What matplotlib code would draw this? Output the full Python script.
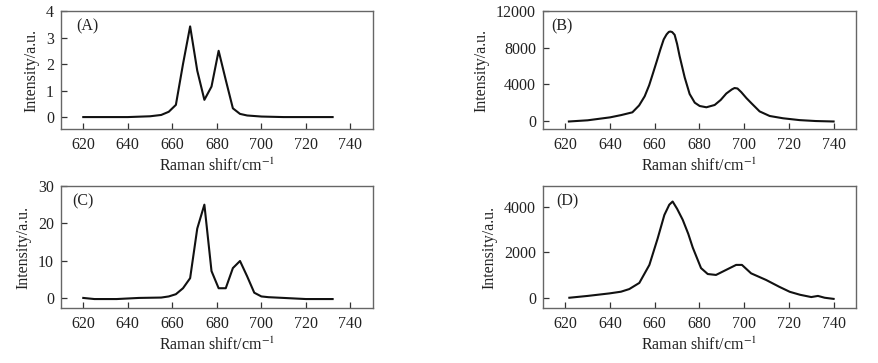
import numpy as np
import matplotlib
matplotlib.use("Agg")
import matplotlib.pyplot as plt

plt.rcParams['font.family'] = ['Liberation Serif', 'DejaVu Serif']
plt.rcParams['mathtext.fontset'] = 'stix'

# (A)
shift_a = [620, 640, 650, 655, 658.4, 661.6, 664.8, 668.0, 671.2, 674.4, 677.6,
           680.8, 684.0, 687.2, 690.4, 693.6, 700, 710, 732]
inten_a = [0.0, 0.0, 0.03, 0.08, 0.2, 0.46, 2.0, 3.42, 1.75, 0.65, 1.15,
           2.5, 1.4, 0.33, 0.12, 0.06, 0.02, 0.0, 0.0]

# (B)
shift_b = [621.6, 630, 640, 645, 650, 653, 655.5, 657.5, 659.2, 661, 662.5,
           664, 665.3, 666.3, 667.0, 667.8, 668.9, 670, 671.1, 673.4, 675.6,
           677.9, 680.1, 683.1, 686.8, 689.5, 692, 694.5, 695.7, 697, 698.7,
           701, 703.2, 706.9, 711.4, 717.4, 724.8, 732, 740]
inten_b = [-50, 80, 400, 650, 950, 1700, 2700, 3900, 5200, 6600, 7800,
           8900, 9450, 9720, 9760, 9700, 9400, 8400, 7100, 4750, 2950,
           2000, 1640, 1500, 1750, 2300, 3000, 3450, 3600, 3550, 3150,
           2500, 1950, 1050, 550, 300, 100, 0, -50]

# (C)
shift_c = [620, 625, 635, 645, 655, 658.4, 661.6, 664.8, 668.0, 671.2, 674.4,
           677.6, 680.8, 684.0, 687.2, 690.4, 693.6, 696.8, 700, 703.2, 710,
           720, 732]
inten_c = [0.0, -0.3, -0.3, 0.0, 0.1, 0.4, 1.0, 2.6, 5.3, 18.6, 25.0,
           7.2, 2.6, 2.6, 8.0, 9.9, 5.8, 1.4, 0.4, 0.2, 0.0,
           -0.3, -0.3]

# (D)
shift_d = [621.8, 630, 639.7, 644.9, 648.6, 653.1, 657.6, 661.3, 664.3, 666.5,
           668.0, 670, 672.5, 675, 677, 680.7, 683.7, 687.4, 691.9, 696.4,
           699, 703.1, 709.8, 715.7, 720.4, 725, 730, 733, 736, 740]
inten_d = [0, 80, 190, 265, 380, 650, 1440, 2600, 3630, 4080,
           4220, 3900, 3420, 2800, 2200, 1300, 1040, 1000, 1220, 1440,
           1440, 1070, 780, 480, 260, 130, 30, 80, 0, -50]

panels = [
    ("(A)", shift_a, inten_a, [0.0694, 0.6446, 0.3546, 0.3251], (-0.45, 4), [0, 1, 2, 3, 4], 0.048),
    ("(B)", shift_b, inten_b, [0.6177, 0.6446, 0.3561, 0.3251], (-870, 12000), [0, 4000, 8000, 12000], 0.028),
    ("(C)", shift_c, inten_c, [0.0694, 0.1515, 0.3546, 0.3361], (-2.7, 30), [0, 10, 20, 30], 0.036),
    ("(D)", shift_d, inten_d, [0.6177, 0.1515, 0.3561, 0.3361], (-450, 4900), [0, 2000, 4000], 0.042),
]

fig = plt.figure(figsize=(8.79, 3.63), dpi=100)

for label, x, y, rect, ylim, yticks, tx in panels:
    ax = fig.add_axes(rect)
    ax.plot(x, y, color='#111111', lw=1.5)
    ax.set_xlim(610, 750)
    ax.set_ylim(*ylim)
    ax.set_xticks([620, 640, 660, 680, 700, 720, 740])
    ax.set_yticks(yticks)
    ax.tick_params(direction='in', length=4.5, width=0.9, color='#333333',
                   labelsize=11.5, labelcolor='#222222')
    ax.tick_params(axis='x', pad=6)
    ax.tick_params(axis='y', pad=5)
    for sp in ax.spines.values():
        sp.set_color('#666666')
        sp.set_linewidth(1.0)
    ax.set_xlabel(r'Raman shift/cm$^{-1}$', fontsize=11.5, color='#222222', labelpad=3)
    ax.set_ylabel('Intensity/a.u.', fontsize=11.5, color='#222222', labelpad=5)
    ax.text(tx, 0.87, label, transform=ax.transAxes, fontsize=11.5,
            color='#222222', va='center', ha='left')

fig.savefig('out.png', dpi=100)
